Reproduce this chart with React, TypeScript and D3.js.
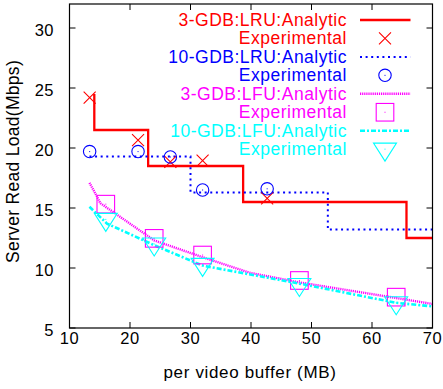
import * as d3 from "d3";

// buffer sizes (MB) where the experiments were run
const lruExpX = [13.33, 21.33, 26.67, 32, 42.67];
const lfuExpX = [16, 24, 32, 48, 64];

// experimental values (Mbps)
const lru3Exp = [24.2, 20.65, 18.85, 18.95, 15.8];
const lru10Exp = [19.7, 19.7, 19.25, 16.5, 16.6];
const lfu3Exp = [15.32, 12.47, 11.08, 8.96, 7.57];
const lfu10Exp = [14.05, 12.0, 10.3, 8.63, 7.1];

// analytic curves
const lru3StepX = [13.9, 14.1, 23.0, 38.7, 65.7, 70];
const lru3StepY = [24.4, 21.5, 18.5, 15.5, 12.5, 12.5];
const lru10StepX = [13.3, 30.0, 52.7, 70];
const lru10StepY = [19.3, 16.3, 13.2, 13.2];
const lfu3X = [13.3, 14.5, 15.1, 24, 32, 39.8, 48, 64, 70];
const lfu3Y = [17.1, 16.0, 15.4, 12.3, 10.9, 9.6, 8.8, 7.5, 7.0];
const lfu10X = [13.3, 16.2, 24, 32, 48, 64, 70];
const lfu10Y = [15.1, 13.7, 11.9, 10.2, 8.7, 7.1, 6.8];

const xTicks = [10, 20, 30, 40, 50, 60, 70];
const yTicks = [5, 10, 15, 20, 25, 30];

const legendLabels = [
  "3-GDB:LRU:Analytic",
  "Experimental",
  "10-GDB:LRU:Analytic",
  "Experimental",
  "3-GDB:LFU:Analytic",
  "Experimental",
  "10-GDB:LFU:Analytic",
  "Experimental",
];

const RED = "#ff0000";
const BLUE = "#0000ff";
const MAG = "#ff00ff";
const CYAN = "#00ffff";

const width = 443;
const height = 389;
const left = 69.5;
const right = 432.5;
const top = 4;
const bottom = 328;
const font = "'Liberation Sans', Arial, Helvetica, sans-serif";

type P = [number, number];

const Cross = ({ x, y }: { x: number; y: number }) => (
  <path d={`M${x - 6},${y - 6}L${x + 6},${y + 6}M${x - 6},${y + 6}L${x + 6},${y - 6}`} stroke={RED} strokeWidth={1.1} fill="none" />
);
const Circ = ({ x, y }: { x: number; y: number }) => (
  <g>
    <circle cx={x} cy={y} r={6.2} stroke={BLUE} strokeWidth={1.1} fill="none" />
    <rect x={x - 0.5} y={y - 0.5} width={1} height={1} fill={BLUE} />
  </g>
);
const Sq = ({ x, y }: { x: number; y: number }) => (
  <g>
    <rect x={x - 8.8} y={y - 8.8} width={17.6} height={17.6} stroke={MAG} strokeWidth={1.1} fill="none" />
    <rect x={x - 0.5} y={y - 0.5} width={1} height={1} fill={MAG} />
  </g>
);
const Tri = ({ x, y }: { x: number; y: number }) => (
  <g>
    <path d={`M${x - 11.5},${y - 6}L${x + 11.5},${y - 6}L${x},${y + 12}Z`} stroke={CYAN} strokeWidth={1.1} fill="none" />
    <rect x={x - 0.5} y={y - 0.5} width={1} height={1} fill={CYAN} />
  </g>
);

export default function App() {
  const x = d3.scaleLinear().domain([10, 70]).range([left, right]);
  const y = d3.scaleLinear().domain([5, 32]).range([bottom, top]);

  const stepLine = d3.line<P>().x((d) => x(d[0])).y((d) => y(d[1])).curve(d3.curveStepAfter);
  const plainLine = d3.line<P>().x((d) => x(d[0])).y((d) => y(d[1]));

  const zip = (a: number[], b: number[]): P[] => a.map((v, i) => [v, b[i]]);

  const legendBase = 26;
  const legendStep = 18.45;
  const sx0 = 360;
  const sx1 = 410.5;
  const mx = 385;

  const lineStyles = [
    { color: RED, dash: undefined, w: 2.3 },
    { color: BLUE, dash: "2,3.6", w: 2 },
    { color: MAG, dash: "1.2,0.9", w: 2.4 },
    { color: CYAN, dash: "5,2,2,2", w: 2.6 },
  ];
  const markerComps = [Cross, Circ, Sq, Tri];

  return (
    <svg width={width} height={height} style={{ position: "absolute", left: 0, top: 0, background: "#fff" }} fontFamily={font}>
      <rect x={0} y={0} width={width} height={height} fill="#fff" />

      {/* analytic curves */}
      <path d={stepLine(zip(lru3StepX, lru3StepY)) ?? ""} fill="none" stroke={RED} strokeWidth={2.3} />
      <path d={stepLine(zip(lru10StepX, lru10StepY)) ?? ""} fill="none" stroke={BLUE} strokeWidth={2} strokeDasharray="2,3.6" />
      <path d={plainLine(zip(lfu3X, lfu3Y)) ?? ""} fill="none" stroke={MAG} strokeWidth={2.4} strokeDasharray="1.2,0.9" />
      <path d={plainLine(zip(lfu10X, lfu10Y)) ?? ""} fill="none" stroke={CYAN} strokeWidth={2.6} strokeDasharray="5,2,2,2" />

      {/* experimental points */}
      {lruExpX.map((v, i) => <Cross key={`a${i}`} x={x(v)} y={y(lru3Exp[i])} />)}
      {lruExpX.map((v, i) => <Circ key={`b${i}`} x={x(v)} y={y(lru10Exp[i])} />)}
      {lfuExpX.map((v, i) => <Sq key={`c${i}`} x={x(v)} y={y(lfu3Exp[i])} />)}
      {lfuExpX.map((v, i) => <Tri key={`d${i}`} x={x(v)} y={y(lfu10Exp[i])} />)}

      {/* frame and ticks */}
      <rect x={left} y={top} width={right - left} height={bottom - top} fill="none" stroke="#000" strokeWidth={1.2} />
      {xTicks.map((t) => (
        <g key={`x${t}`}>
          <line x1={x(t)} x2={x(t)} y1={bottom} y2={bottom - 6} stroke="#000" />
          <line x1={x(t)} x2={x(t)} y1={top} y2={top + 6} stroke="#000" />
          <text x={x(t)} y={343.5} textAnchor="middle" fontSize={16.5} style={{ letterSpacing: "0.5px" }} fill="#000">
            {t}
          </text>
        </g>
      ))}
      {yTicks.map((t) => (
        <g key={`y${t}`}>
          <line x1={left} x2={left + 6} y1={y(t)} y2={y(t)} stroke="#000" />
          <line x1={right} x2={right - 6} y1={y(t)} y2={y(t)} stroke="#000" />
          <text x={54} y={y(t) + 8} textAnchor="end" fontSize={16.5} style={{ letterSpacing: "0.5px" }} fill="#000">
            {t}
          </text>
        </g>
      ))}

      <text x={250} y={378} textAnchor="middle" fontSize={17} style={{ letterSpacing: "0.65px" }} fill="#000">
        per video buffer (MB)
      </text>
      <text transform="translate(19,161.5) rotate(-90)" textAnchor="middle" fontSize={17.5} style={{ letterSpacing: "0.3px" }} fill="#000">
        Server Read Load(Mbps)
      </text>

      {/* legend */}
      {legendLabels.map((lab, i) => {
        const s = Math.floor(i / 2);
        const c = lineStyles[s].color;
        const by = legendBase + i * legendStep;
        const cy = by - 6;
        const M = markerComps[s];
        return (
          <g key={`l${i}`}>
            <text x={347} y={by} textAnchor="end" fontSize={17.5} style={{ letterSpacing: "0.5px" }} fill={c}>
              {lab}
            </text>
            {i % 2 === 0 ? (
              <line x1={sx0} x2={sx1} y1={cy} y2={cy} stroke={c} strokeWidth={lineStyles[s].w} strokeDasharray={lineStyles[s].dash} />
            ) : (
              <M x={mx} y={cy} />
            )}
          </g>
        );
      })}
    </svg>
  );
}
